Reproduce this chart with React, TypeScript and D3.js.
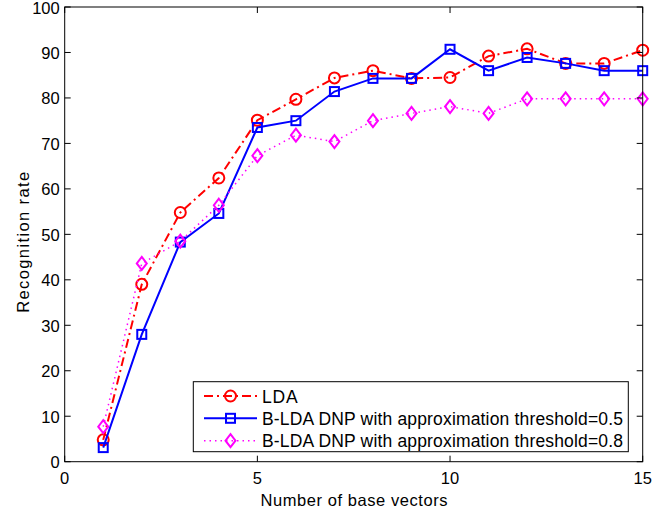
import React from "react";
import * as d3 from "d3";

const xs = [1, 2, 3, 4, 5, 6, 7, 8, 9, 10, 11, 12, 13, 14, 15];
const lda = [4.8, 39.0, 54.8, 62.4, 75.1, 79.7, 84.4, 86.0, 84.3, 84.5, 89.2, 90.8, 87.6, 87.6, 90.5];
const bldaA = [3.1, 28.0, 48.3, 54.6, 73.5, 75.0, 81.4, 84.3, 84.3, 90.7, 86.0, 88.9, 87.6, 86.0, 86.0];
const bldaB = [7.7, 43.6, 48.5, 56.4, 67.3, 71.8, 70.4, 75.0, 76.6, 78.1, 76.6, 79.8, 79.8, 79.8, 79.8];
const xTicks = [0, 5, 10, 15];
const yTicks = [0, 10, 20, 30, 40, 50, 60, 70, 80, 90, 100];
const labels = [
  "LDA",
  "B-LDA DNP with approximation threshold=0.5",
  "B-LDA DNP with approximation threshold=0.8",
];
const labelWidths = [35.6, 361, 361];

const W = 653;
const H = 513;
const left = 64.7;
const right = 642.7;
const top = 7;
const bottom = 461.7;

const font = "'Liberation Sans', Arial, Helvetica, sans-serif";

type Series = {
  values: number[];
  color: string;
  dash: string;
  marker: "circle" | "square" | "diamond";
  width: number;
};

const series: Series[] = [
  { values: lda, color: "#ff0000", dash: "9,4,2,4", marker: "circle", width: 2 },
  { values: bldaA, color: "#0000ff", dash: "", marker: "square", width: 2 },
  { values: bldaB, color: "#ff00ff", dash: "1.5,4", marker: "diamond", width: 1.5 },
];

function Marker({ kind, x, y, color }: { kind: string; x: number; y: number; color: string }) {
  if (kind === "circle") {
    return <circle cx={x} cy={y} r={5.5} fill="none" stroke={color} strokeWidth={2} />;
  }
  if (kind === "square") {
    return <rect x={x - 4.5} y={y - 4.5} width={9} height={9} fill="none" stroke={color} strokeWidth={2} />;
  }
  return (
    <path
      d={`M${x},${y - 6.5}L${x + 5},${y}L${x},${y + 6.5}L${x - 5},${y}Z`}
      fill="none"
      stroke={color}
      strokeWidth={2}
    />
  );
}

export default function App() {
  const x = d3.scaleLinear().domain([0, 15]).range([left, right]);
  const y = d3.scaleLinear().domain([0, 100]).range([bottom, top]);
  const line = d3
    .line<number>()
    .x((_, i) => x(xs[i]))
    .y((d) => y(d));

  const legX = 193.3;
  const legY = 381.7;
  const legW = 435;
  const legH = 70;
  const rowY = [396, 418.3, 440.7];

  return (
    <svg width={W} height={H} style={{ position: "absolute", left: 0, top: 0 }} fontFamily={font}>
      <rect width={W} height={H} fill="#fff" />
      {series.map((s, si) => (
        <g key={si}>
          <path
            d={line(s.values) || ""}
            fill="none"
            stroke={s.color}
            strokeWidth={s.width}
            strokeDasharray={s.dash || undefined}
          />
          {s.values.map((v, i) => (
            <Marker key={i} kind={s.marker} x={x(xs[i])} y={y(v)} color={s.color} />
          ))}
        </g>
      ))}
      {/* axes box */}
      <rect x={left} y={top} width={right - left} height={bottom - top} fill="none" stroke="#000" strokeWidth={1} />
      {xTicks.map((t) => (
        <g key={"x" + t}>
          <line x1={x(t)} x2={x(t)} y1={bottom} y2={bottom - 6} stroke="#000" />
          <line x1={x(t)} x2={x(t)} y1={top} y2={top + 6} stroke="#000" />
          <text x={x(t)} y={484} fontSize={16.5} textAnchor="middle">
            {t}
          </text>
        </g>
      ))}
      {yTicks.map((t) => (
        <g key={"y" + t}>
          <line x1={left} x2={left + 6} y1={y(t)} y2={y(t)} stroke="#000" />
          <line x1={right} x2={right - 6} y1={y(t)} y2={y(t)} stroke="#000" />
          <text x={left - 5} y={y(t) + 6.5} fontSize={16.5} textAnchor="end">
            {t}
          </text>
        </g>
      ))}
      <text x={354} y={505.5} fontSize={16.5} textAnchor="middle" textLength={187} lengthAdjust="spacing">
        Number of base vectors
      </text>
      <text
        transform={`translate(29,242.3) rotate(-90)`}
        fontSize={16.5}
        textAnchor="middle"
        textLength={141}
        lengthAdjust="spacing"
      >
        Recognition rate
      </text>
      {/* legend */}
      <rect x={legX} y={legY} width={legW} height={legH} fill="#fff" stroke="#000" strokeWidth={1} />
      {series.map((s, i) => (
        <g key={"l" + i}>
          <line
            x1={204}
            x2={257}
            y1={rowY[i]}
            y2={rowY[i]}
            stroke={s.color}
            strokeWidth={s.width}
            strokeDasharray={s.dash || undefined}
          />
          <Marker kind={s.marker} x={230.5} y={rowY[i]} color={s.color} />
          <text x={262} y={rowY[i] + 6.5} fontSize={17.5} textLength={labelWidths[i]} lengthAdjust="spacing">
            {labels[i]}
          </text>
        </g>
      ))}
    </svg>
  );
}
